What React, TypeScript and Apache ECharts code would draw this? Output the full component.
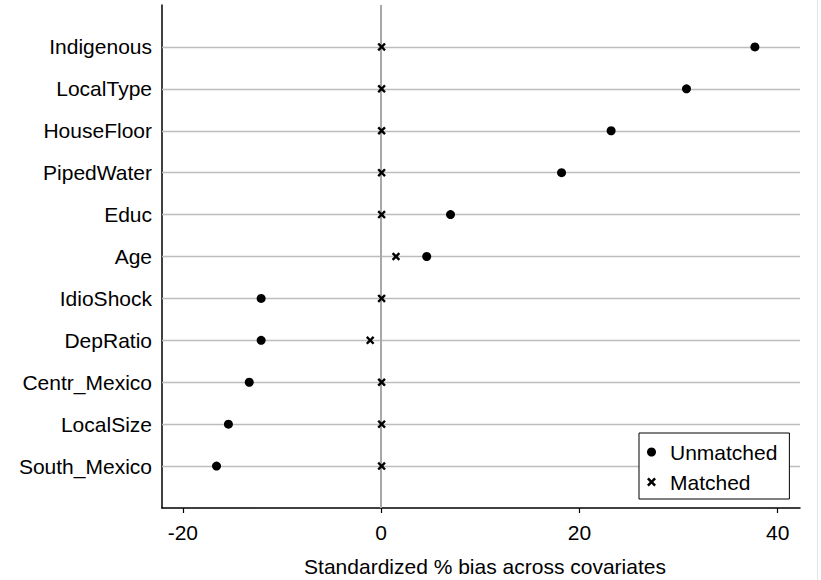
import React, { useEffect, useRef } from "react";
import * as echarts from "echarts";

const rows = [
  "Indigenous",
  "LocalType",
  "HouseFloor",
  "PipedWater",
  "Educ",
  "Age",
  "IdioShock",
  "DepRatio",
  "Centr_Mexico",
  "LocalSize",
  "South_Mexico",
];
const unmatched = [37.7, 30.8, 23.2, 18.2, 7.0, 4.6, -12.1, -12.1, -13.3, -15.4, -16.6];
const matched = [0.05, 0.05, 0.05, 0.05, 0.05, 1.5, 0.05, -1.1, 0.05, 0.05, 0.05];
const xTicks = [-20, 0, 20, 40];
const xTitle = "Standardized % bias across covariates";

const CROSS = "path://M0,2L2,0L5,3L8,0L10,2L7,5L10,8L8,10L5,7L2,10L0,8L3,5Z";
const FONT = "'Liberation Sans', Arial, Helvetica, sans-serif";
const FS = 21;

export default function App() {
  const ref = useRef<HTMLDivElement>(null);
  useEffect(() => {
    if (!ref.current) return;
    const chart = echarts.init(ref.current, null, { renderer: "svg" });
    const rowIdx = rows.map((_, i) => i + 1);
    chart.setOption({
      animation: false,
      backgroundColor: "#ffffff",
      textStyle: { fontFamily: FONT },
      grid: {
        left: 162,
        right: 21,
        top: 5,
        bottom: 72,
        containLabel: false,
        outerBoundsMode: "none",
      },
      xAxis: {
        type: "value",
        min: -22.1,
        max: 42.25,
        name: xTitle,
        nameLocation: "middle",
        nameGap: 48,
        nameTextStyle: { fontSize: FS, color: "#000", fontFamily: FONT, padding: [0, 0, 0, 8] },
        axisLine: { show: true, onZero: false, lineStyle: { color: "#000", width: 1.5 } },
        axisTick: {
          show: true,
          customValues: xTicks,
          length: 5,
          lineStyle: { color: "#000", width: 1.2 },
        },
        axisLabel: {
          customValues: xTicks,
          fontSize: FS,
          color: "#000",
          margin: 14,
          fontFamily: FONT,
        },
        splitLine: { show: false },
      },
      yAxis: {
        type: "value",
        min: 0,
        max: 12,
        inverse: true,
        axisLine: { show: true, onZero: false, lineStyle: { color: "#000", width: 1.5 } },
        axisTick: { show: false },
        axisLabel: {
          customValues: rowIdx,
          fontSize: FS,
          color: "#000",
          margin: 10,
          fontFamily: FONT,
          formatter: (v: number) => rows[Math.round(v) - 1] ?? "",
        },
        splitLine: { show: false },
      },
      legend: {
        left: 639,
        top: 433,
        orient: "vertical",
        backgroundColor: "#fff",
        borderColor: "#000",
        borderWidth: 1,
        borderRadius: 0,
        padding: [8, 12, 6, 8],
        itemWidth: 9,
        itemHeight: 9,
        itemGap: 8,
        textStyle: { fontSize: FS, color: "#000", lineHeight: 22, fontFamily: FONT, padding: [0, 0, 0, 9] },
        data: [
          { name: "Unmatched", icon: "circle", itemStyle: { opacity: 1, color: "#000" } },
          { name: "Matched", icon: CROSS, itemStyle: { opacity: 1, color: "#000" } },
        ],
      },
      graphic: [
        {
          type: "rect",
          shape: { x: 817, y: 0, width: 1, height: 580 },
          style: { fill: "#dfe6ea" },
          silent: true,
        },
      ],
      series: [
        {
          name: "Grid",
          type: "scatter",
          data: [],
          silent: true,
          markLine: {
            silent: true,
            symbol: "none",
            label: { show: false },
            lineStyle: { color: "#bdbdbd", width: 1.4, type: "solid" },
            data: rowIdx.map((v) => ({ yAxis: v })),
            z: 1,
          },
          z: 1,
        },
        {
          name: "Zero",
          type: "scatter",
          data: [],
          silent: true,
          markLine: {
            silent: true,
            symbol: "none",
            label: { show: false },
            lineStyle: { color: "#a8a8a8", width: 2, type: "solid" },
            data: [{ xAxis: 0 }],
          },
          z: 2,
        },
        {
          name: "Unmatched",
          type: "scatter",
          symbol: "circle",
          symbolSize: 9,
          itemStyle: { color: "#000", opacity: 1 },
          data: unmatched.map((v, i) => [v, i + 1]),
          z: 5,
        },
        {
          name: "Matched",
          type: "scatter",
          symbol: CROSS,
          symbolSize: 8.5,
          itemStyle: { color: "#000", opacity: 1 },
          data: matched.map((v, i) => [v, i + 1]),
          z: 5,
        },
      ],
    });
    return () => chart.dispose();
  }, []);
  return (
    <div
      ref={ref}
      style={{ position: "absolute", left: 0, top: 0, width: 821, height: 580 }}
    />
  );
}
